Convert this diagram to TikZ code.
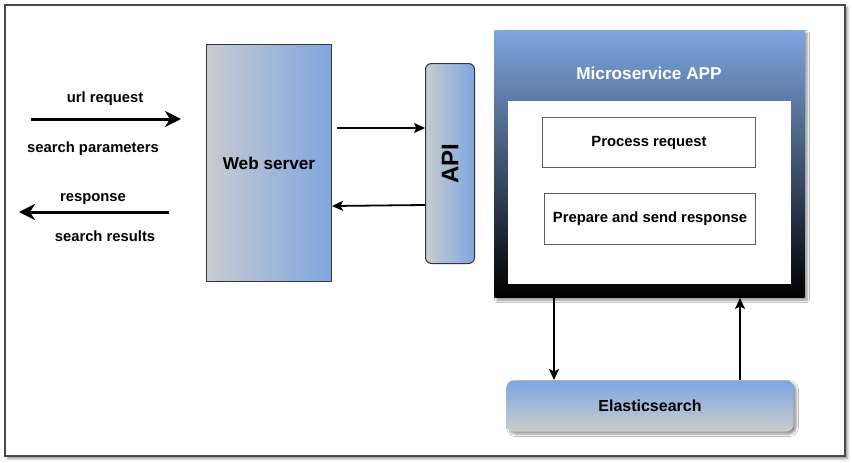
\documentclass[tikz,border=0pt]{standalone}
\usepackage{fontspec}
\setmainfont{Liberation Sans}
\usetikzlibrary{arrows.meta,shadows.blur,calc}
\definecolor{dblue}{HTML}{7EA6E0}
\definecolor{lgray}{HTML}{C8CBD0}
\definecolor{egray}{HTML}{CCCCCC}
\definecolor{bord}{HTML}{363636}
\begin{document}
\begin{tikzpicture}[x=1pt,y=-1pt,
  box/.style={draw=bord,line width=1pt,inner sep=0pt,anchor=north west,align=center},
  arr/.style={draw=black,line width=1.8pt,-{Stealth[length=11pt,width=10pt,inset=2.5pt]}},
  thick arr/.style={draw=black,line width=3pt,-{Stealth[length=16pt,width=16pt,inset=5pt]}},
  lbl/.style={font=\bfseries\fontsize{14.8}{17}\selectfont,inner sep=0pt},
  shad/.style={blur shadow={shadow xshift=2.5pt,shadow yshift=-2.5pt,shadow blur radius=2.5pt,shadow opacity=45}}]
\useasboundingbox (0,0) rectangle (852,463);
\draw[draw=bord!90,line width=1.2pt,fill=white,shad] (5,5) rectangle (845,456);
% Web server
\node[box,minimum width=125pt,minimum height=237pt,left color=lgray,right color=dblue,
  font=\bfseries\fontsize{17.2}{20}\selectfont] (ws) at (206,44) {Web server};
% API
\node[box,rounded corners=6pt,minimum width=49pt,minimum height=200pt,left color=lgray,right color=dblue] (api) at (425,63) {};
\node[rotate=90,font=\bfseries\fontsize{24}{26}\selectfont,inner sep=0pt] (apitxt) at (api.center) {API};
% Microservice
\node[box,draw=none,minimum width=310pt,minimum height=267pt,top color=dblue,bottom color=black,shad] (ms) at (494,30) {};
\node[font=\bfseries\fontsize{17.2}{20}\selectfont,text=white,inner sep=0pt] (mst) at (649,73) {Microservice APP};
\node[box,draw=none,fill=white,minimum width=283pt,minimum height=183pt] (inner) at (507,100) {};
\node[box,draw=bord!80,fill=white,minimum width=213pt,minimum height=50pt,font=\bfseries\fontsize{14.8}{17}\selectfont] (pr) at (542,117) {Process request};
\node[box,draw=bord!80,fill=white,minimum width=211pt,minimum height=51pt,font=\bfseries\fontsize{14.8}{17}\selectfont] (ps) at (544,193) {Prepare and send response};
% Elasticsearch
\node[box,draw=none,rounded corners=7pt,minimum width=287pt,minimum height=51pt,top color=dblue,bottom color=egray,shad,
  font=\bfseries\fontsize{16}{18}\selectfont] (es) at (506,380) {Elasticsearch};
% connectors
\draw[arr] ([xshift=5pt]ws.east|-0,128) -- (api.west|-0,128);
\draw[arr] (api.west|-0,205) -- (ws.east|-0,206);
\draw[arr] (ms.south-|554,0) -- (es.north-|554,0);
\draw[arr] (es.north-|740,0) -- (ms.south-|740,0);
% left arrows
\coordinate (a1s) at (31,119);
\coordinate (a1e) at (181,119);
\coordinate (a2s) at (169,212);
\coordinate (a2e) at (19,212);
\draw[thick arr] (a1s) -- (a1e);
\draw[thick arr] (a2s) -- (a2e);
\node[lbl] (l1) at (105,99) {url request};
\node[lbl] (l2) at (93,149) {search parameters};
\node[lbl] (l3) at (93,199) {response};
\node[lbl] (l4) at (105,236) {search results};
\end{tikzpicture}
\end{document}
